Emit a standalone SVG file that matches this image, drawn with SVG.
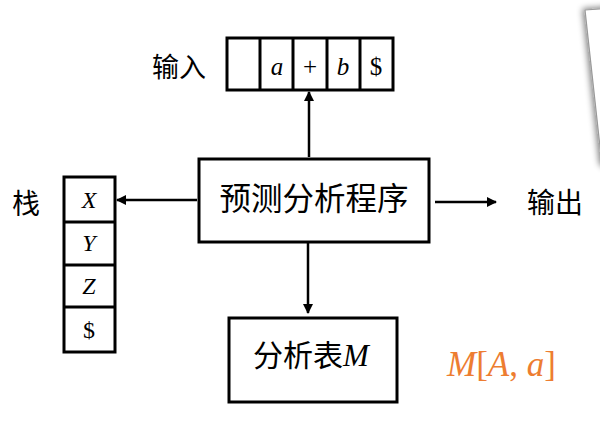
<svg xmlns="http://www.w3.org/2000/svg" width="600" height="446" viewBox="0 0 600 446">
  <defs>
    <style>
      .box { fill: #fff; stroke: #000; stroke-width: 3; }
      .cell { fill: none; stroke: #000; stroke-width: 3; }
      .cn { font-family: "Noto Sans CJK SC", "Noto Sans", sans-serif; fill: #000; }
      .math { font-family: "Liberation Serif", "DejaVu Serif", serif; fill: #000; }
      .it { font-style: italic; }
      .conn { stroke: #000; stroke-width: 2.5; fill: none; marker-end: url(#head); }
    </style>
    <marker id="head" viewBox="0 0 10 10" refX="9" refY="5" markerWidth="4" markerHeight="4" orient="auto" markerUnits="strokeWidth">
      <path d="M0,0 L10,5 L0,10 Z" fill="#000"/>
    </marker>
    <filter id="shadow" x="-50%" y="-50%" width="200%" height="200%">
      <feGaussianBlur in="SourceAlpha" stdDeviation="3"/>
      <feOffset dx="-2" dy="-1" result="b"/>
      <feComponentTransfer><feFuncA type="linear" slope="0.5"/></feComponentTransfer>
      <feMerge><feMergeNode/><feMergeNode in="SourceGraphic"/></feMerge>
    </filter>
  </defs>

  <rect width="600" height="446" fill="#fff"/>

  <!-- tilted sheet in the corner -->
  <polygon points="585,10 640,6 660,200 602,165" fill="#fff" stroke="#999" stroke-width="1.2" filter="url(#shadow)"/>

  <!-- connectors -->
  <g id="connectors">
    <line class="conn" x1="309" y1="157" x2="309" y2="92"/>
    <line class="conn" x1="197" y1="200" x2="117" y2="200"/>
    <line class="conn" x1="435" y1="202" x2="496" y2="202"/>
    <line class="conn" x1="308" y1="243" x2="308" y2="313"/>
  </g>

  <!-- input tape -->
  <g id="input">
    <text class="cn" x="152" y="77" font-size="27">输入</text>
    <rect class="cell" x="227" y="38" width="166" height="52"/>
    <line class="cell" x1="260" y1="38" x2="260" y2="90"/>
    <line class="cell" x1="293" y1="38" x2="293" y2="90"/>
    <line class="cell" x1="327" y1="38" x2="327" y2="90"/>
    <line class="cell" x1="360" y1="38" x2="360" y2="90"/>
    <text class="math it" x="277" y="75" font-size="25" text-anchor="middle">a</text>
    <text class="math" x="310" y="75" font-size="25" text-anchor="middle">+</text>
    <text class="math it" x="343" y="75" font-size="25" text-anchor="middle">b</text>
    <text class="math" x="376" y="75" font-size="25" text-anchor="middle">$</text>
  </g>

  <!-- stack -->
  <g id="stack">
    <text class="cn" x="12" y="214" font-size="28">栈</text>
    <rect class="cell" x="64" y="177" width="51" height="175"/>
    <line class="cell" x1="64" y1="222" x2="115" y2="222"/>
    <line class="cell" x1="64" y1="265" x2="115" y2="265"/>
    <line class="cell" x1="64" y1="307" x2="115" y2="307"/>
    <text class="math it" x="89" y="208" font-size="24" text-anchor="middle">X</text>
    <text class="math it" x="89" y="251" font-size="24" text-anchor="middle">Y</text>
    <text class="math it" x="89" y="294" font-size="24" text-anchor="middle">Z</text>
    <text class="math" x="89" y="338" font-size="24" text-anchor="middle">$</text>
  </g>

  <!-- predictive parser -->
  <g id="parser">
    <rect class="box" x="199" y="159" width="230" height="83"/>
    <text class="cn" x="314" y="210" font-size="31.5" text-anchor="middle">预测分析程序</text>
  </g>

  <!-- output -->
  <g id="output">
    <text class="cn" x="527" y="213" font-size="28">输出</text>
  </g>

  <!-- parsing table -->
  <g id="table">
    <rect class="box" x="229" y="318" width="168" height="84"/>
    <text x="253" y="366" font-size="30"><tspan class="cn">分析表</tspan><tspan class="math it" font-size="31">M</tspan></text>
  </g>

  <!-- table entry -->
  <g id="entry">
    <text x="447" y="376" font-size="35" fill="#ED7D31" font-family="Liberation Serif, serif"><tspan font-style="italic">M</tspan>[<tspan font-style="italic">A</tspan>, <tspan font-style="italic">a</tspan>]</text>
  </g>
</svg>
